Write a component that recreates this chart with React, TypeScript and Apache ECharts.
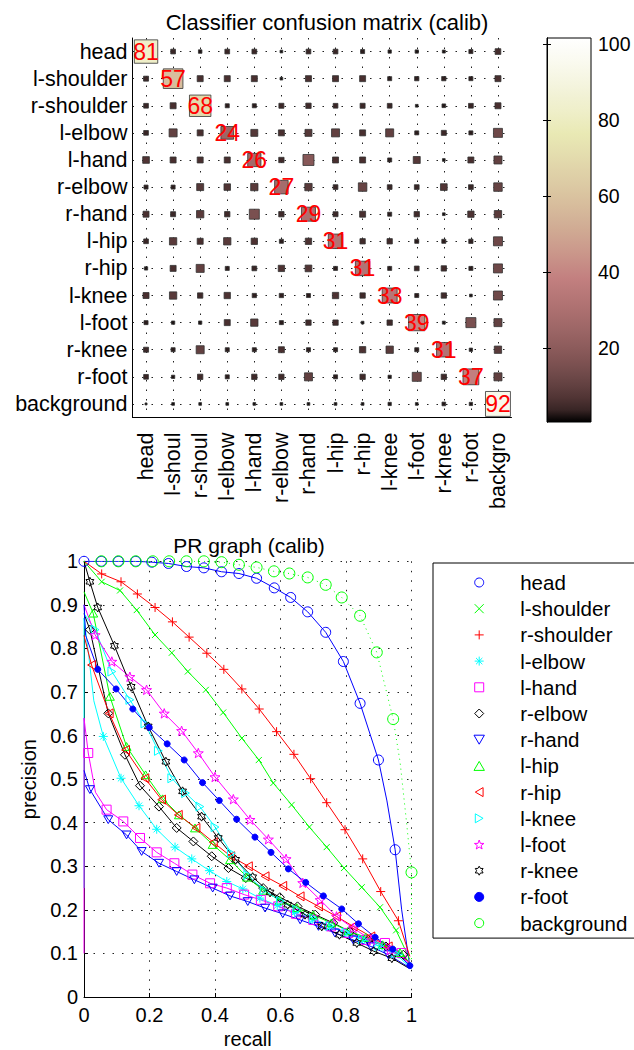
import React, { useEffect, useRef } from 'react';
import * as echarts from 'echarts';

// ---------- DATA ----------
const rowLabels = ['head', 'l-shoulder', 'r-shoulder', 'l-elbow', 'l-hand', 'r-elbow', 'r-hand', 'l-hip', 'r-hip', 'l-knee', 'l-foot', 'r-knee', 'r-foot', 'background'];
const colLabels = ['head', 'l-shoul', 'r-shoul', 'l-elbow', 'l-hand', 'r-elbow', 'r-hand', 'l-hip', 'r-hip', 'l-knee', 'l-foot', 'r-knee', 'r-foot', 'backgro'];
const colorbarTicks = [20, 40, 60, 80, 100];

// confusion matrix (%), rows = true class, columns = predicted class
const confusion: number[][] = [
  [81, 3.3, 1.8, 3.3, 3.3, 1.1, 3.3, 3.3, 2.4, 1.6, 1.6, 1.3, 2.4, 4.8],
  [3.7, 57, 5.3, 5.3, 5.3, 1.1, 5.3, 5.3, 5.3, 2.4, 2.7, 2.7, 2.4, 5.3],
  [3.3, 5.3, 68, 2.4, 2.4, 3.7, 4.2, 3.3, 3.7, 3.3, 1.1, 2.0, 3.3, 5.3],
  [3.3, 9.5, 5.3, 24, 7.2, 5.3, 7.2, 9.5, 5.3, 9.5, 2.4, 3.7, 2.4, 12],
  [6.6, 5.3, 5.3, 5.3, 26, 4.2, 17.9, 5.3, 5.3, 2.4, 7.2, 1.1, 5.3, 9.5],
  [2.4, 2.4, 7.2, 6.3, 7.9, 27, 7.9, 3.3, 10.7, 3.3, 3.3, 6.6, 3.3, 10.7],
  [5.3, 3.7, 7.9, 4.2, 14.8, 4.2, 29, 3.7, 5.3, 2.4, 4.2, 1.1, 5.9, 7.9],
  [3.3, 7.9, 5.3, 7.9, 5.9, 2.4, 5.9, 31, 4.2, 4.2, 2.4, 2.4, 2.7, 12],
  [1.6, 5.3, 9.5, 2.4, 3.3, 5.9, 6.6, 2.4, 31, 2.4, 3.3, 4.2, 2.4, 12],
  [5.3, 7.9, 4.2, 5.9, 2.7, 2.7, 2.4, 5.9, 4.2, 33, 2.4, 4.2, 1.1, 12],
  [2.4, 1.6, 1.6, 5.3, 7.9, 2.4, 4.2, 4.2, 1.1, 4.2, 39, 1.3, 14.8, 9.5],
  [3.7, 2.4, 9.5, 2.4, 2.4, 5.3, 2.4, 2.4, 5.9, 7.9, 2.4, 31, 1.6, 7.9],
  [3.3, 1.6, 4.2, 2.4, 4.2, 4.2, 9.5, 2.4, 4.2, 1.6, 12, 4.2, 37, 9.5],
  [0.6, 1.1, 1.1, 1.1, 1.1, 1.1, 1.1, 1.1, 1.1, 1.6, 1.1, 2.0, 1.6, 92],
];

// PR curves: [recall, precision, marker(1) / no marker(0)]
const prHead = [[0, 1, 1], [0.053, 1, 1], [0.105, 1, 1], [0.158, 1, 1], [0.207, 0.998, 1], [0.258, 0.995, 1], [0.313, 0.988, 1], [0.366, 0.985, 1], [0.42, 0.976, 1], [0.473, 0.972, 1], [0.527, 0.961, 1], [0.581, 0.939, 1], [0.631, 0.917, 1], [0.683, 0.884, 1], [0.738, 0.837, 1], [0.792, 0.77, 1], [0.843, 0.674, 1], [0.899, 0.544, 1], [0.925, 0.45, 0], [0.95, 0.338, 1], [0.97, 0.2, 0], [0.995, 0.07, 0]];
const prLShoulder = [[0, 1, 0], [0.054, 0.953, 1], [0.11, 0.933, 1], [0.161, 0.888, 1], [0.217, 0.831, 1], [0.268, 0.79, 1], [0.317, 0.747, 1], [0.372, 0.705, 1], [0.425, 0.653, 1], [0.482, 0.594, 1], [0.534, 0.544, 1], [0.578, 0.491, 1], [0.634, 0.441, 1], [0.688, 0.39, 1], [0.741, 0.344, 1], [0.794, 0.296, 1], [0.848, 0.252, 1], [0.904, 0.206, 1], [0.953, 0.153, 1], [0.995, 0.086, 0]];
const prRShoulder = [[0, 1, 0], [0.054, 0.971, 1], [0.113, 0.953, 1], [0.163, 0.925, 1], [0.217, 0.894, 1], [0.27, 0.861, 1], [0.321, 0.826, 1], [0.375, 0.789, 1], [0.427, 0.752, 1], [0.482, 0.707, 1], [0.535, 0.661, 1], [0.588, 0.609, 1], [0.641, 0.557, 1], [0.692, 0.501, 1], [0.741, 0.446, 1], [0.797, 0.384, 1], [0.851, 0.317, 1], [0.906, 0.242, 1], [0.96, 0.175, 1], [0.995, 0.093, 0]];
const prLElbow = [[0, 0.25, 0], [0, 0.87, 0], [0.015, 0.78, 0], [0.03, 0.68, 0], [0.059, 0.598, 1], [0.113, 0.502, 1], [0.168, 0.439, 1], [0.222, 0.385, 1], [0.278, 0.344, 1], [0.329, 0.317, 1], [0.383, 0.29, 1], [0.436, 0.265, 1], [0.485, 0.248, 1], [0.537, 0.227, 1], [0.59, 0.21, 1], [0.643, 0.194, 1], [0.697, 0.178, 1], [0.75, 0.162, 1], [0.803, 0.146, 1], [0.857, 0.13, 1], [0.91, 0.115, 1], [0.962, 0.098, 1], [0.995, 0.07, 0]];
const prLHand = [[0, 0.1, 0], [0, 0.64, 0], [0.013, 0.56, 1], [0.035, 0.47, 0], [0.069, 0.43, 1], [0.12, 0.403, 1], [0.171, 0.365, 1], [0.222, 0.332, 1], [0.276, 0.307, 1], [0.331, 0.281, 1], [0.385, 0.261, 1], [0.436, 0.25, 1], [0.489, 0.235, 1], [0.54, 0.223, 1], [0.593, 0.208, 1], [0.647, 0.191, 1], [0.7, 0.177, 1], [0.754, 0.162, 1], [0.807, 0.147, 1], [0.861, 0.131, 1], [0.919, 0.124, 1], [0.97, 0.101, 1], [1.0, 0.07, 0]];
const prRElbow = [[0, 0.88, 0], [0.018, 0.843, 1], [0.074, 0.651, 1], [0.125, 0.556, 1], [0.171, 0.485, 1], [0.229, 0.437, 1], [0.283, 0.388, 1], [0.334, 0.357, 1], [0.39, 0.323, 1], [0.441, 0.296, 1], [0.494, 0.273, 1], [0.547, 0.25, 1], [0.598, 0.229, 1], [0.652, 0.208, 1], [0.706, 0.189, 1], [0.761, 0.17, 1], [0.812, 0.15, 1], [0.868, 0.131, 1], [0.922, 0.116, 1], [0.975, 0.097, 1], [1.0, 0.067, 0]];
const prRHand = [[0, 0.52, 0], [0.018, 0.476, 1], [0.074, 0.407, 1], [0.13, 0.372, 1], [0.176, 0.334, 1], [0.229, 0.307, 1], [0.283, 0.288, 1], [0.337, 0.269, 1], [0.393, 0.25, 1], [0.446, 0.232, 1], [0.5, 0.219, 1], [0.553, 0.204, 1], [0.607, 0.191, 1], [0.66, 0.177, 1], [0.716, 0.162, 1], [0.766, 0.147, 1], [0.822, 0.131, 1], [0.876, 0.116, 1], [0.929, 0.097, 1], [0.995, 0.067, 0]];
const prLHip = [[0, 0.93, 0], [0.028, 0.881, 1], [0.079, 0.69, 1], [0.13, 0.575, 1], [0.188, 0.51, 1], [0.24, 0.455, 1], [0.29, 0.418, 1], [0.339, 0.388, 1], [0.393, 0.35, 1], [0.446, 0.315, 1], [0.498, 0.275, 1], [0.547, 0.245, 1], [0.598, 0.222, 1], [0.65, 0.205, 1], [0.7, 0.188, 1], [0.755, 0.17, 1], [0.807, 0.152, 1], [0.86, 0.137, 1], [0.912, 0.12, 1], [0.965, 0.102, 1], [1.0, 0.075, 0]];
const prRHip = [[0, 0.83, 0], [0.023, 0.762, 1], [0.077, 0.651, 1], [0.127, 0.567, 1], [0.186, 0.502, 1], [0.237, 0.453, 1], [0.288, 0.418, 1], [0.342, 0.388, 1], [0.395, 0.355, 1], [0.448, 0.323, 1], [0.502, 0.3, 1], [0.553, 0.277, 1], [0.607, 0.255, 1], [0.66, 0.231, 1], [0.716, 0.208, 1], [0.771, 0.185, 1], [0.822, 0.162, 1], [0.876, 0.139, 1], [0.929, 0.116, 1], [0.995, 0.078, 0]];
const prLKnee = [[0, 0.88, 0], [0.034, 0.843, 1], [0.085, 0.747, 1], [0.14, 0.682, 1], [0.186, 0.628, 1], [0.227, 0.565, 1], [0.268, 0.502, 1], [0.31, 0.468, 1], [0.354, 0.437, 1], [0.4, 0.39, 1], [0.45, 0.33, 1], [0.5, 0.28, 1], [0.55, 0.245, 1], [0.6, 0.22, 1], [0.65, 0.2, 1], [0.7, 0.18, 1], [0.75, 0.163, 1], [0.8, 0.148, 1], [0.85, 0.132, 1], [0.9, 0.117, 1], [0.95, 0.1, 1], [1.0, 0.065, 0]];
const prLFoot = [[0, 0.9, 0], [0.034, 0.831, 1], [0.085, 0.77, 1], [0.14, 0.735, 1], [0.191, 0.705, 1], [0.245, 0.651, 1], [0.298, 0.611, 1], [0.349, 0.56, 1], [0.4, 0.505, 1], [0.456, 0.454, 1], [0.507, 0.407, 1], [0.563, 0.362, 1], [0.617, 0.317, 1], [0.668, 0.262, 1], [0.721, 0.223, 1], [0.771, 0.185, 1], [0.822, 0.158, 1], [0.878, 0.131, 1], [0.934, 0.108, 1], [0.995, 0.078, 0]];
const prRKnee = [[0, 1, 0], [0.018, 0.953, 1], [0.042, 0.894, 1], [0.093, 0.806, 1], [0.144, 0.712, 1], [0.196, 0.621, 1], [0.25, 0.54, 1], [0.301, 0.472, 1], [0.359, 0.414, 1], [0.41, 0.365, 1], [0.463, 0.315, 1], [0.515, 0.275, 1], [0.568, 0.24, 1], [0.622, 0.212, 1], [0.675, 0.189, 1], [0.726, 0.162, 1], [0.78, 0.143, 1], [0.833, 0.124, 1], [0.885, 0.105, 1], [0.94, 0.089, 1], [0.99, 0.067, 0]];
const prRFoot = [[0, 0.9, 0], [0.005, 0.83, 0], [0.042, 0.752, 1], [0.098, 0.707, 1], [0.149, 0.661, 1], [0.199, 0.619, 1], [0.254, 0.581, 1], [0.306, 0.544, 1], [0.362, 0.492, 1], [0.413, 0.451, 1], [0.466, 0.408, 1], [0.522, 0.367, 1], [0.571, 0.332, 1], [0.624, 0.294, 1], [0.677, 0.263, 1], [0.731, 0.232, 1], [0.787, 0.202, 1], [0.838, 0.168, 1], [0.889, 0.137, 1], [0.943, 0.11, 1], [0.995, 0.072, 1]];
const prBackground = [[0, 1, 0], [0.053, 1, 1], [0.105, 1, 1], [0.158, 1, 1], [0.21, 1, 1], [0.26, 1, 1], [0.313, 1, 1], [0.366, 1, 1], [0.42, 0.998, 1], [0.473, 0.992, 1], [0.527, 0.986, 1], [0.58, 0.977, 1], [0.627, 0.972, 1], [0.683, 0.963, 1], [0.738, 0.946, 1], [0.787, 0.917, 1], [0.843, 0.875, 1], [0.894, 0.791, 1], [0.944, 0.638, 1], [0.965, 0.54, 0], [0.985, 0.4, 0], [1.0, 0.286, 1], [1.0, 0.07, 0]];

const prCurves = [prHead, prLShoulder, prRShoulder, prLElbow, prLHand, prRElbow, prRHand, prLHip, prRHip, prLKnee, prLFoot, prRKnee, prRFoot, prBackground];

// ---------- STYLE ----------
const FONT = '"Liberation Sans", Arial, Helvetica, sans-serif';

function starPath(n: number, ro: number, ri: number) {
  let d = '';
  for (let k = 0; k < 2 * n; k++) {
    const r = k % 2 === 0 ? ro : ri;
    const a = -Math.PI / 2 + (k * Math.PI) / n;
    d += (k === 0 ? 'M' : 'L') + (ro + r * Math.cos(a)).toFixed(2) + ' ' + (ro + r * Math.sin(a)).toFixed(2);
  }
  return 'path://' + d + 'Z';
}

const SYM = {
  circle: 'circle',
  x: 'path://M0 0L10 10M10 0L0 10',
  plus: 'path://M5 0L5 10M0 5L10 5',
  aster: 'path://M5 0L5 10M0 5L10 5M1.5 1.5L8.5 8.5M8.5 1.5L1.5 8.5',
  square: 'path://M0 0L10 0L10 10L0 10Z',
  diamond: 'path://M5 0L10 5L5 10L0 5Z',
  triDown: 'path://M0 0L10 0L5 8.66Z',
  triUp: 'path://M5 0L10 8.66L0 8.66Z',
  triLeft: 'path://M8.66 0L8.66 10L0 5Z',
  triRight: 'path://M0 0L0 10L8.66 5Z',
  penta: starPath(5, 5, 2.0),
  hexa: starPath(6, 5, 2.9),
};

const B = '#0000ff', G = '#00ff00', R = '#ff0000', C = '#00ffff', M = '#ff00ff', K = '#000000';
const curveStyles = [
  { color: B, symbol: SYM.circle, size: 10 },
  { color: G, symbol: SYM.x, size: 6 },
  { color: R, symbol: SYM.plus, size: 9 },
  { color: C, symbol: SYM.aster, size: 9 },
  { color: M, symbol: SYM.square, size: 9 },
  { color: K, symbol: SYM.diamond, size: 9 },
  { color: B, symbol: SYM.triDown, size: 9 },
  { color: G, symbol: SYM.triUp, size: 9 },
  { color: R, symbol: SYM.triLeft, size: 9 },
  { color: C, symbol: SYM.triRight, size: 9 },
  { color: M, symbol: SYM.penta, size: 10 },
  { color: K, symbol: SYM.hexa, size: 9 },
  { color: B, symbol: SYM.circle, size: 6, filled: true },
  { color: G, symbol: SYM.circle, size: 11, dotted: true },
];

function pinkColor(t: number) {
  const hr = Math.min(1, t / 0.375);
  const hg = Math.min(1, Math.max(0, (t - 0.375) / 0.375));
  const hb = Math.max(0, (t - 0.75) / 0.25);
  const c = (h: number) => Math.round(255 * Math.sqrt((2 * t + h) / 3));
  return `rgb(${c(hr)},${c(hg)},${c(hb)})`;
}
const pinkSteps = Array.from({ length: 33 }, (_, i) => i / 32);
const pinkColors = pinkSteps.map(pinkColor);

function buildOption() {
  const matrixData: any[] = [];
  confusion.forEach((row, ri) => row.forEach((v, ci) => matrixData.push([ci, ri, v])));

  const textBase = { color: '#000', fontFamily: FONT };

  const prSeries = prCurves.map((pts, i) => {
    const st: any = curveStyles[i];
    return {
      type: 'line',
      name: rowLabels[i],
      xAxisIndex: 1,
      yAxisIndex: 1,
      data: pts.map(([r, p, m]) => (m ? [r, p] : { value: [r, p], symbol: 'none' })),
      symbol: st.symbol,
      symbolSize: st.size,
      symbolKeepAspect: true,
      showAllSymbol: true,
      silent: true,
      lineStyle: { color: st.color, width: 1, type: st.dotted ? [1, 4] : 'solid' },
      itemStyle: { color: st.filled ? st.color : 'none', borderColor: st.color, borderWidth: 1 },
      emphasis: { disabled: true },
    };
  });

  return {
    animation: false,
    backgroundColor: '#fff',
    textStyle: { fontFamily: FONT },
    title: [
      {
        text: 'Classifier confusion matrix (calib)', left: 327, top: 22, padding: 0,
        textAlign: 'center', textVerticalAlign: 'middle',
        textStyle: { ...textBase, fontSize: 22, fontWeight: 'normal' },
      },
      {
        text: 'PR graph (calib)', left: 249, top: 545, padding: 0,
        textAlign: 'center', textVerticalAlign: 'middle',
        textStyle: { ...textBase, fontSize: 21, fontWeight: 'normal' },
      },
    ],
    grid: [
      { left: 132.5, top: 38, width: 379, height: 379.5 },
      { left: 84, top: 561.3, width: 327.5, height: 436 },
      {
        left: 547, top: 38, width: 44, height: 384, show: true,
        borderColor: '#000', borderWidth: 1,
        backgroundColor: {
          type: 'linear', x: 0, y: 1, x2: 0, y2: 0,
          colorStops: pinkSteps.map((t, i) => ({ offset: t, color: pinkColors[i] })),
        },
      },
    ],
    visualMap: [
      {
        type: 'continuous', show: false, min: 0, max: 100, dimension: 2, seriesIndex: 0,
        inRange: { color: pinkColors },
      },
    ],
    legend: {
      orient: 'vertical', left: 433, top: 563, padding: [9, 9, 4.5, 38.5],
      itemGap: 5.2, itemWidth: 72, itemHeight: 9,
      borderColor: '#000', borderWidth: 1, selectedMode: false,
      textStyle: { ...textBase, fontSize: 20.5, lineHeight: 20 },
      itemStyle: { borderWidth: 1 },
      data: rowLabels.map((n, i) => ({ name: n, icon: (curveStyles[i] as any).symbol })),
    },
    xAxis: [
      {
        type: 'category', gridIndex: 0, data: colLabels,
        axisLine: { lineStyle: { color: '#000', width: 1 } },
        axisTick: { inside: true, alignWithLabel: true, length: 4, lineStyle: { color: '#000' } },
        axisLabel: { ...textBase, rotate: 90, fontSize: 21.5, margin: 15, interval: 0 },
        splitLine: { show: false },
      },
      {
        type: 'value', gridIndex: 1, min: 0, max: 1, interval: 0.2,
        name: 'recall', nameLocation: 'middle', nameGap: 32,
        nameTextStyle: { ...textBase, fontSize: 20 },
        axisLine: { lineStyle: { color: '#000', width: 1 } },
        axisTick: { inside: true, length: 4, lineStyle: { color: '#000' } },
        axisLabel: { ...textBase, fontSize: 20, margin: 8 },
        splitLine: { show: true, lineStyle: { color: '#222', type: [1.5, 8], width: 1 } },
      },
      { type: 'value', gridIndex: 2, min: 0, max: 1, show: false },
    ],
    yAxis: [
      {
        type: 'category', gridIndex: 0, data: rowLabels, inverse: true,
        axisLine: { lineStyle: { color: '#000', width: 1 } },
        axisTick: { inside: true, alignWithLabel: true, length: 4, lineStyle: { color: '#000' } },
        axisLabel: { ...textBase, fontSize: 21.5, margin: 5, interval: 0 },
        splitLine: { show: false },
      },
      {
        type: 'value', gridIndex: 1, min: 0, max: 1, interval: 0.1,
        name: 'precision', nameLocation: 'middle', nameGap: 40,
        nameTextStyle: { ...textBase, fontSize: 20 },
        axisLine: { lineStyle: { color: '#000', width: 1 } },
        axisTick: { inside: true, length: 4, lineStyle: { color: '#000' } },
        axisLabel: { ...textBase, fontSize: 20, margin: 6 },
        splitLine: { show: true, lineStyle: { color: '#222', type: [1.5, 8], width: 1 } },
      },
      {
        type: 'value', gridIndex: 2, min: 0.5, max: 101.6, position: 'right',
        axisLine: { show: true, lineStyle: { color: '#000', width: 1 } },
        axisTick: { show: true, inside: true, length: 4, customValues: colorbarTicks, lineStyle: { color: '#000' } },
        axisLabel: { ...textBase, fontSize: 19.5, margin: 7, customValues: colorbarTicks },
        splitLine: { show: false },
      },
      {
        type: 'value', gridIndex: 2, min: 0.5, max: 101.6, position: 'left',
        axisLine: { show: true, lineStyle: { color: '#000', width: 1 } },
        axisTick: { show: true, inside: true, length: 4, customValues: colorbarTicks, lineStyle: { color: '#000' } },
        axisLabel: { show: false },
        splitLine: { show: false },
      },
    ],
    series: [
      {
        type: 'scatter', name: 'confusion', xAxisIndex: 0, yAxisIndex: 0, z: 3,
        data: matrixData,
        symbol: 'rect',
        symbolSize: (v: number[]) => 2.6 * Math.sqrt(v[2]),
        itemStyle: { borderColor: '#333', borderWidth: 0.8, opacity: 1 },
        silent: true,
        label: {
          show: true, position: 'inside', color: '#ff0000', fontSize: 23, fontFamily: FONT,
          formatter: (p: any) => (p.data[0] === p.data[1] ? String(p.data[2]) : ''),
        },
      },
      {
        type: 'scatter', name: 'grid', xAxisIndex: 0, yAxisIndex: 0, data: [], z: 1, silent: true,
        markLine: {
          silent: true, z: 1, symbol: ['none', 'none'], label: { show: false },
          lineStyle: { color: '#222', type: [1.5, 8], width: 1 },
          emphasis: { disabled: true },
          data: [
            ...colLabels.map((c) => ({ xAxis: c })),
            ...rowLabels.map((r) => ({ yAxis: r })),
          ],
        },
      },
      ...prSeries,
    ],
  };
}

export default function App() {
  const ref = useRef<HTMLDivElement>(null);
  useEffect(() => {
    if (!ref.current) return;
    const chart = echarts.init(ref.current, null, { renderer: 'svg' });
    chart.setOption(buildOption() as any);
    return () => chart.dispose();
  }, []);
  return (
    <div
      ref={ref}
      style={{ position: 'absolute', left: 0, top: 0, width: 634, height: 1050, background: '#fff' }}
    />
  );
}
